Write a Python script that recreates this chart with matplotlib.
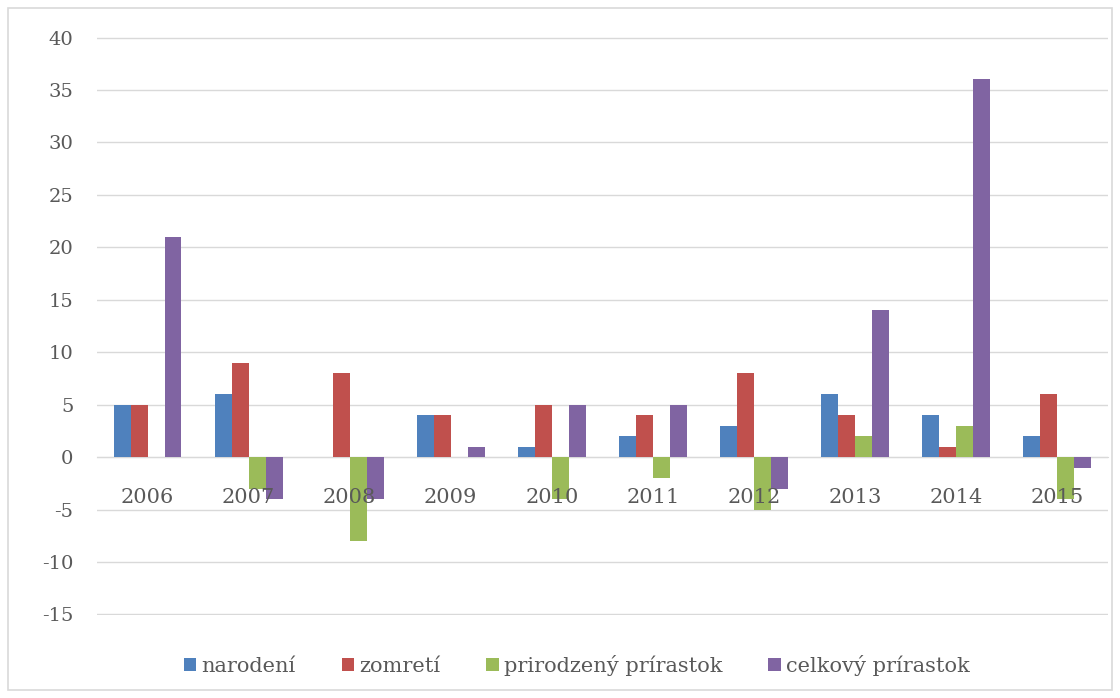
import numpy as np
import matplotlib.pyplot as plt
from matplotlib.patches import Rectangle
from matplotlib.transforms import offset_copy

# Data
years = ["2006", "2007", "2008", "2009", "2010", "2011", "2012", "2013", "2014", "2015"]
narodeni = [5, 6, 0, 4, 1, 2, 3, 6, 4, 2]
zomreti = [5, 9, 8, 4, 5, 4, 8, 4, 1, 6]
prirodzeny = [0, -3, -8, 0, -4, -2, -5, 2, 3, -4]
celkovy = [21, -4, -4, 1, 5, 5, -3, 14, 36, -1]

series_names = ["narodení", "zomretí", "prirodzený prírastok", "celkový prírastok"]
colors = ["#4f81bd", "#c0504d", "#9bbb59", "#8064a2"]

plt.rcParams['font.family'] = ['DejaVu Serif']
plt.rcParams['axes.unicode_minus'] = False
text_color = "#595959"

fig = plt.figure(figsize=(11.2, 6.98), dpi=100)
ax = fig.add_axes([0.0866, 0.119, 0.9024, 0.828])

x = np.arange(len(years))
w = 0.168
for i, (vals, name, c) in enumerate(zip([narodeni, zomreti, prirodzeny, celkovy], series_names, colors)):
    ax.bar(x + (i - 1.5) * w, vals, width=w, color=c, label=name, zorder=3)

ax.set_xlim(-0.5, len(years) - 0.5)
ax.set_ylim(-15.05, 40.05)
ax.set_yticks(range(-15, 41, 5))
ax.yaxis.grid(True, color="#d9d9d9", linewidth=1, zorder=0)
ax.tick_params(axis='y', length=0, pad=17, labelsize=14, labelcolor=text_color)

for s in ["top", "right", "left"]:
    ax.spines[s].set_visible(False)
ax.spines["bottom"].set_position(("data", 0))
ax.spines["bottom"].set_color("#d9d9d9")
ax.set_xticks([])

# category labels sit just below the zero line, drawn over the bars
lab_tr = offset_copy(ax.transData, fig=fig, x=0, y=-31, units='dots')
for xi, yr in zip(x, years):
    ax.text(xi, 0, yr, transform=lab_tr, ha='center', va='top', fontsize=15,
            color=text_color, zorder=6)

leg = fig.legend(loc="center", bbox_to_anchor=(0.515, 0.047), ncol=4, frameon=False,
                 fontsize=15, handlelength=0.6, handleheight=0.6, handletextpad=0.25,
                 columnspacing=2.2, labelcolor=text_color)

# outer chart border
fig.patches.append(Rectangle((8 / 1120, 8 / 698), 1104 / 1120, 682 / 698, transform=fig.transFigure,
                             fill=False, edgecolor="#d9d9d9", linewidth=1.2))

fig.savefig("out.png", dpi=100)
